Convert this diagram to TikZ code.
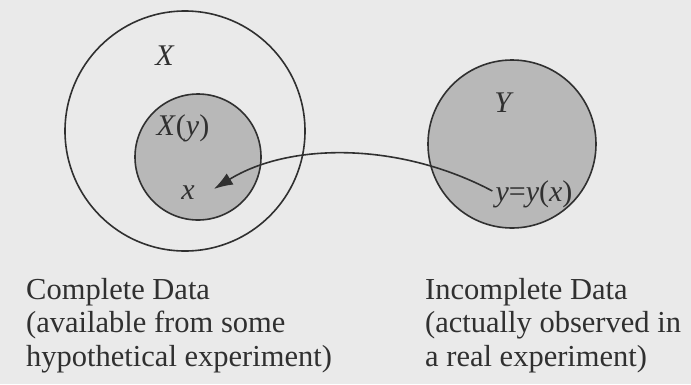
\documentclass[tikz,border=0pt]{standalone}
\usepackage{fontspec}
\setmainfont{Liberation Serif}
\usetikzlibrary{arrows.meta}
\definecolor{bg}{RGB}{234,234,234}
\definecolor{fillg}{RGB}{184,184,184}
\definecolor{ink}{RGB}{48,48,48}
\tikzset{
  setcirc/.style={circle, draw=ink, line width=1.6pt, inner sep=0pt},
  lbl/.style={text=ink, inner sep=0pt, font=\fontsize{30}{32}\selectfont},
  caption/.style={text=ink, inner sep=0pt, align=left, anchor=north west,
    font=\fontsize{30.5}{33.5}\selectfont},
  arr/.style={draw=ink, line width=1.6pt, -{Latex[length=19pt,width=13pt]}}
}
\begin{document}
\begin{tikzpicture}[x=1pt,y=-1pt]
\fill[bg] (0,0) rectangle (691,384);
\useasboundingbox (0,0) rectangle (691,384);
\node[setcirc, minimum size=240pt] (outer) at (185,131) {};
\node[setcirc, fill=fillg, minimum size=126pt] (inner) at (198,157) {};
\node[setcirc, fill=fillg, minimum size=168pt] (ycirc) at (512,144) {};
\node[lbl] (lX) at (165,56) {\textit{X}};
\node[lbl] (lXy) at (183,128) {\textit{X}(\textit{y})};
\node[lbl] (xn) at (188,193) {\textit{x}};
\node[lbl] (lY) at (504,103) {\textit{Y}};
\node[lbl] (yx) at (534,194) {\textit{y}=\textit{y}(\textit{x})};
\draw[arr] ([xshift=-3pt,yshift=3pt]yx.west) .. controls (400,142) and (290,142) .. ([xshift=19pt,yshift=4pt]xn.east);
\node[caption] (cl) at (26,278) {Complete Data\\(available from some\\hypothetical experiment)};
\node[caption] (cr) at (425,278) {Incomplete Data\\(actually observed in\\a real experiment)};
\end{tikzpicture}
\end{document}
